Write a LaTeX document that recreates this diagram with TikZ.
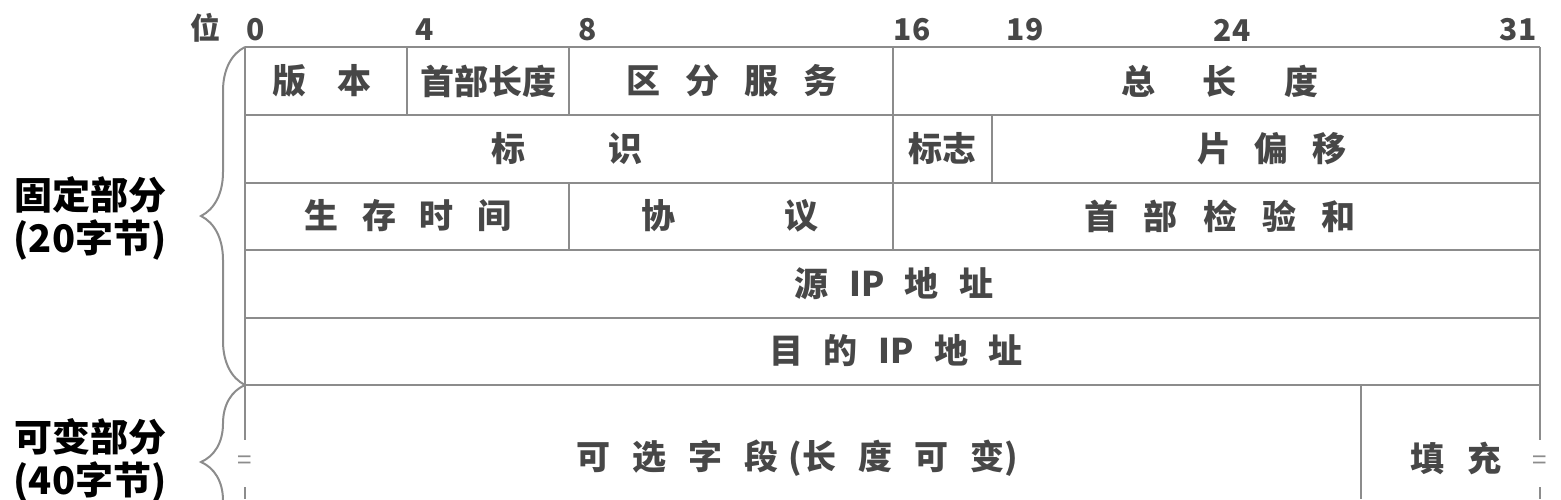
\documentclass[tikz,border=0pt]{standalone}
\usepackage{fontspec}
\setmainfont{Noto Sans CJK SC}
\usepackage{tikz}
\usetikzlibrary{decorations.pathreplacing}
\definecolor{rulegray}{HTML}{8C8C8C}
\definecolor{textgray}{HTML}{474747}
\newcommand{\fgap}[1]{\hspace{#1em}}

\begin{document}
\begin{tikzpicture}[x=0.5pt,y=-0.5pt]
\tikzstyle{rule}=[draw=rulegray, line width=1pt]
\tikzstyle{field}=[text=textgray, font=\fontsize{17}{17}\selectfont\bfseries, inner sep=0pt]
\tikzstyle{bitno}=[text=textgray, font=\fontsize{15}{15}\selectfont\bfseries, inner sep=0pt]
\tikzstyle{brk}=[text=rulegray, font=\fontsize{13}{13}\selectfont, inner sep=0pt]
\tikzstyle{part}=[text=black, font=\fontsize{19}{19}\selectfont\bfseries, inner sep=0pt]
\tikzstyle{curly}=[rule, decorate, decoration={brace, amplitude=22pt}]

\useasboundingbox (0,0) rectangle (1561,499);
\clip (0,0) rectangle (1561,499);

% bit numbers
\node[bitno] (wei) at (205,28) {位};
\foreach \b/\x in {0/256,4/425,8/588,16/912,19/1025,24/1232,31/1518}
  \node[bitno] (bit\b) at (\x,30) {\b};

% grid
\draw[rule] (245,47) -- (1540,47);
\foreach \y in {115,183,250,318,385}
  \draw[rule] (245,\y) -- (1540,\y);
\draw[rule] (245,47) -- (245,440) (245,487) -- (245,499);
\draw[rule] (1540,47) -- (1540,440) (1540,487) -- (1540,499);
\draw[rule] (407,47) -- (407,115) (569,47) -- (569,115) (893,47) -- (893,250);
\draw[rule] (992,115) -- (992,183) (569,183) -- (569,250);
\draw[rule] (1361,385) -- (1361,499);
\node[brk] (brkL) at (245,463) {=};
\node[brk] (brkR) at (1540,463) {=};

% row 1
\node[field] (ver) at (322,81) {版\fgap{0.9}本};
\node[field] (ihl) at (488,81) {首部长度};
\node[field] (ds) at (732,81) {区\fgap{0.73}分\fgap{0.73}服\fgap{0.73}务};
\node[field] (tlen) at (1220,81) {总\fgap{1.4}长\fgap{1.4}度};
% row 2
\node[field] (ident) at (567,149) {标\fgap{2.45}识};
\node[field] (flags) at (942,149) {标志};
\node[field] (frag) at (1272,149) {片\fgap{0.7}偏\fgap{0.7}移};
% row 3
\node[field] (ttl) at (408,216) {生\fgap{0.7}存\fgap{0.7}时\fgap{0.7}间};
\node[field] (proto) at (730,216) {协\fgap{3.2}议};
\node[field] (csum) at (1220,216) {首\fgap{0.74}部\fgap{0.74}检\fgap{0.74}验\fgap{0.74}和};
% rows 4-6
\node[field] (src) at (894,284) {源\fgap{0.6}IP\fgap{0.6}地\fgap{0.6}址};
\node[field] (dst) at (896,351) {目\fgap{0.6}的\fgap{0.6}IP\fgap{0.6}地\fgap{0.6}址};
\node[field] (opt) at (797,458) {可\fgap{0.65}选\fgap{0.65}字\fgap{0.65}段\fgap{0.3}(长\fgap{0.65}度\fgap{0.65}可\fgap{0.65}变)};
\node[field] (pad) at (1456,458) {填\fgap{0.7}充};

% braces and parts
\draw[curly] (245,385) -- (245,47);
\draw[curly] (245,539) -- (245,385);
\node[part] (fixed) at (90,195) {固定部分};
\node[part] (fixedlen) at (90,240) {(20字节)};
\node[part] (var) at (90,437) {可变部分};
\node[part] (varlen) at (90,482) {(40字节)};
\end{tikzpicture}
\end{document}
